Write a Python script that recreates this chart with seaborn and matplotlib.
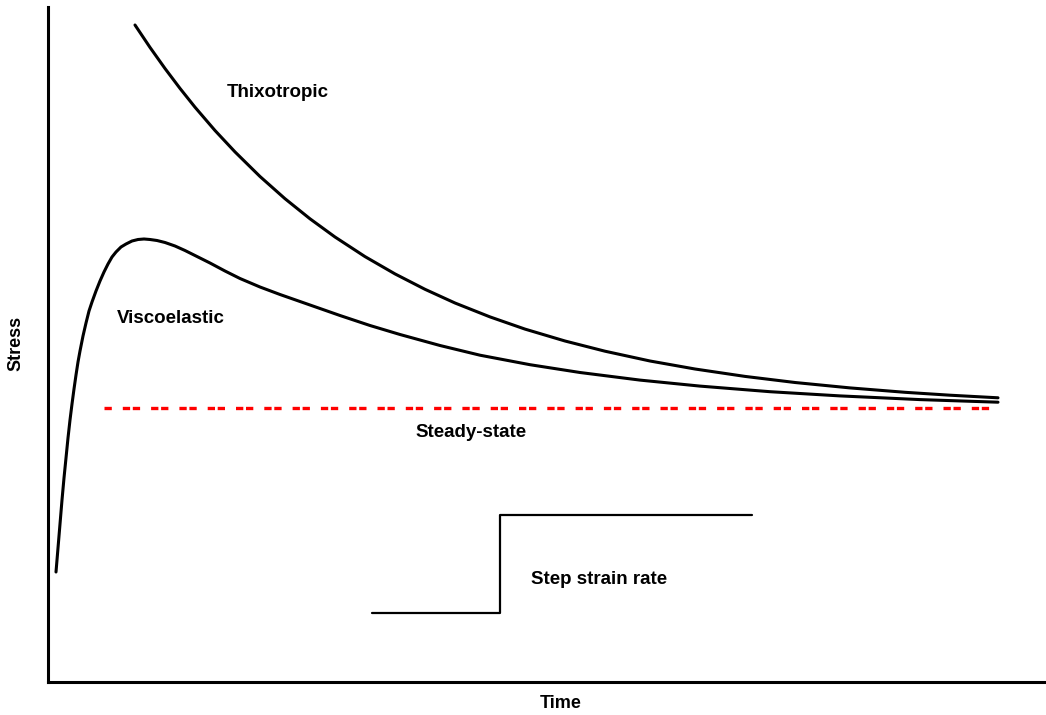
import matplotlib
matplotlib.use("Agg")
import matplotlib.pyplot as plt
import seaborn as sns

# ---- data (time, stress in arbitrary units) ----
thixo_time = [87, 102, 117, 132, 147, 167, 187, 212, 237, 262, 287, 317, 347,
              377, 407, 442, 477, 517, 557, 602, 647, 697, 747, 802, 857, 902, 950]
thixo_stress = [657, 634.6, 613.5, 593.6, 574.8, 551.5, 530.1, 505.5, 483.3,
                463.2, 445.0, 425.4, 408.1, 392.7, 379.0, 365.1, 352.9, 341.0,
                330.8, 321.0, 313.0, 305.6, 299.5, 294.1, 289.7, 286.8, 284.2]

visco_time = [8, 10, 12, 14, 16, 18, 20, 22, 24, 26, 28, 30, 32, 35, 38, 41, 44,
              48, 52, 56, 60, 64, 68, 73, 78, 84, 90, 96, 102, 109, 117, 127,
              137, 147, 162, 177, 192, 212, 232, 252, 272, 292, 322, 352, 392,
              432, 482, 532, 592, 652, 722, 792, 872, 950]
visco_stress = [110, 134, 158, 182, 204, 224, 244, 262, 278, 293, 307, 320, 331,
                346, 359, 371, 380, 391, 401, 410, 418, 425, 430, 435, 438, 441,
                442.5, 443, 442.5, 441.5, 439.5, 436, 431.5, 426.5, 419, 411,
                403.5, 395, 387.5, 380.5, 373.5, 366.5, 356.5, 347.5, 336.5,
                326.8, 317.3, 309.5, 301.9, 295.9, 290.3, 286.1, 282.4, 279.8]

steady_time = [56, 945]
steady_stress = [274, 274]

step_time = [324, 452, 704]
step_level = [69, 167, 167]

labels = ["Thixotropic", "Viscoelastic", "Steady-state", "Step strain rate"]
label_time = [229.5, 123, 423, 551]
label_stress = [585, 359, 245, 98]

x_label = "Time"
y_label = "Stress"

# ---- drawing ----
sns.set_style("white")
plt.rcParams["font.family"] = ["Liberation Sans", "DejaVu Sans"]

fig = plt.figure(figsize=(10.46, 7.15), dpi=100)
ax = fig.add_axes([48 / 1046, 33 / 715, 998 / 1046, 675 / 715])

sns.lineplot(x=thixo_time, y=thixo_stress, color="black", lw=2.2, ax=ax)
sns.lineplot(x=visco_time, y=visco_stress, color="black", lw=2.2, ax=ax)
sns.lineplot(x=steady_time, y=steady_stress, color="red", lw=2.4, ax=ax,
             linestyle=(0, (2.19, 3.3, 2.19, 0.81)), dash_capstyle="butt")
sns.lineplot(x=step_time, y=step_level, color="black", lw=1.6, ax=ax,
             drawstyle="steps-post")

for txt, tx, ty in zip(labels, label_time, label_stress):
    ax.text(tx, ty, txt, ha="center", va="baseline", fontsize=13.5,
            fontweight="bold", color="black")

ax.set_xlim(0, 998)
ax.set_ylim(0, 675)
ax.set_xticks([])
ax.set_yticks([])
for s in ["top", "right"]:
    ax.spines[s].set_visible(False)
for s in ["left", "bottom"]:
    ax.spines[s].set_color("black")
    ax.spines[s].set_linewidth(2.2)

ax.set_xlabel(x_label, fontsize=13, fontweight="bold", color="black")
ax.set_ylabel(y_label, fontsize=13, fontweight="bold", color="black")
ax.xaxis.set_label_coords((561 - 48) / 998, -0.02)
ax.yaxis.set_label_coords(-0.024, (682 - 343) / 675)

fig.savefig("out.png", dpi=100)
